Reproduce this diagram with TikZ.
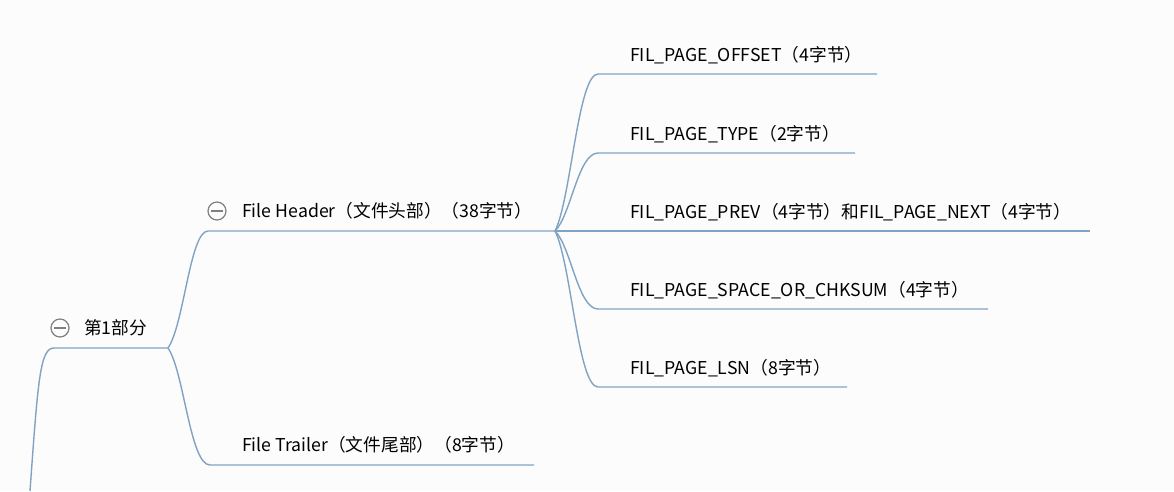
\documentclass[tikz,border=0pt]{standalone}
\usepackage{fontspec}
\setmainfont{Noto Sans CJK SC}
\usetikzlibrary{math, calc}
\definecolor{mblue}{RGB}{128,163,196}
\definecolor{mgray}{RGB}{128,128,128}
\definecolor{mbg}{RGB}{252,252,252}
\tikzset{
  branch/.style={draw=mblue, line width=1.4pt},
  topic/.style={anchor=west, inner sep=0pt, font=\fontsize{17.7}{20}\selectfont},
  fold/.style={circle, draw=mgray, line width=1.2pt, minimum size=18pt, inner sep=0pt,
    path picture={\draw[mgray, line width=1.2pt]
      ([xshift=-6pt]path picture bounding box.center) -- ([xshift=6pt]path picture bounding box.center);}}
}

\begin{document}
\begin{tikzpicture}[x=1pt, y=-1pt]

\tikzmath{
\Xc = 555;% child fork
\Xt = 630;% child text
}

\fill[mbg] (0,0) rectangle (1174,491);
\useasboundingbox (0,0) rectangle (1174,491);

% root part
\coordinate (root) at (30,491);
\coordinate (p1-a) at (54,348);
\coordinate (p1-b) at (168,348);
\node[fold] (p1-fold) at (60,328) {};
\node[topic] (p1) at (84,328) {第1部分};
\draw[branch] (root) .. controls (38,380) and (40,348) .. (p1-a) -- (p1-b);

% header and trailer
\coordinate (hdr-a) at (208,231);
\coordinate (hdr-b) at (\Xc,231);
\node[fold] (hdr-fold) at (217,211) {};
\node[topic] (hdr) at (242,211) {File Header（文件头部）（38字节）};
\draw[branch] (p1-b) .. controls (184,325) and (190,231) .. (hdr-a) -- (hdr-b);

\coordinate (trl-a) at (210,465);
\coordinate (trl-b) at (534,465);
\node[topic] (trl) at (242,445) {File Trailer（文件尾部）（8字节）};
\draw[branch] (p1-b) .. controls (184,371) and (190,465) .. (trl-a) -- (trl-b);

% fields of the header
\foreach \y/\xe/\txt [count=\i] in {
  74/877/{FIL\_PAGE\_OFFSET（4字节）},
  153/855/{FIL\_PAGE\_TYPE（2字节）},
  231/1090/{FIL\_PAGE\_PREV（4字节）和FIL\_PAGE\_NEXT（4字节）},
  309/988/{FIL\_PAGE\_SPACE\_OR\_CHKSUM（4字节）},
  387/847/{FIL\_PAGE\_LSN（8字节）}}{
  \node[topic] (f\i) at (\Xt,\y-19) {\txt};
  \coordinate (f\i-a) at (598,\y);
  \coordinate (f\i-b) at (\xe,\y);
  \draw[branch] (hdr-b) .. controls ($(hdr-b)+(16,{0.2*(\y-231)})$) and (578,\y) .. (f\i-a) -- (f\i-b);
}

\end{tikzpicture}
\end{document}
